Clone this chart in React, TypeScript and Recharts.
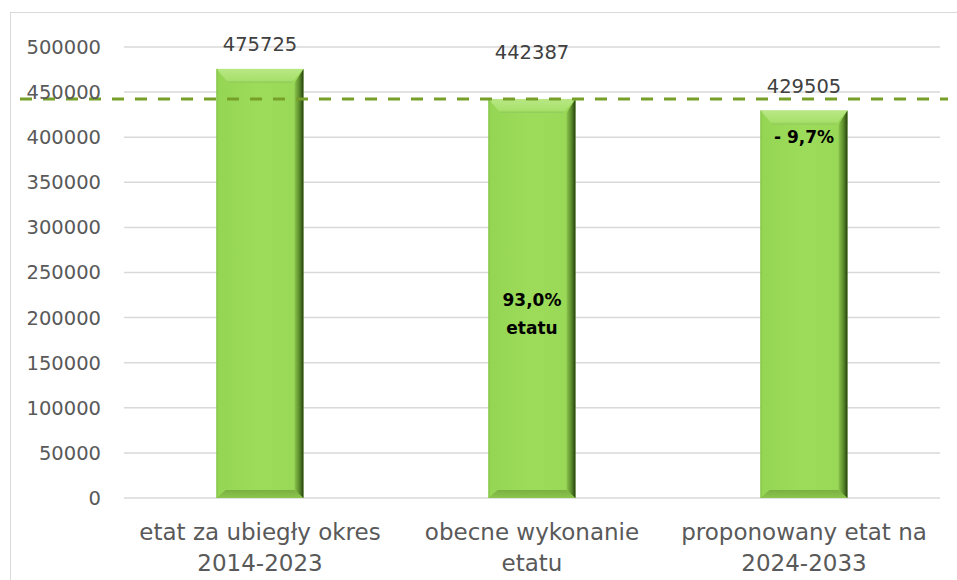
import { Bar, BarChart, CartesianGrid, LabelList, ReferenceLine, XAxis, YAxis } from 'recharts';

const categories = ['etat za ubiegły okres\n2014-2023', 'obecne wykonanie\netatu', 'proponowany etat na\n2024-2033'];
const volumes = [475725, 442387, 429505];
const notes = ['', '93,0%\netatu', '- 9,7%'];
const yTicks = [0, 50000, 100000, 150000, 200000, 250000, 300000, 350000, 400000, 450000, 500000];
const referenceVolume = 442387;

const FONT = '"DejaVu Sans", sans-serif';

const data = categories.map((name, i) => ({ name, value: volumes[i], note: notes[i] }));

// bevelled bar, like the Excel "soft edge" preset
function BevelBar(props: any) {
  const { x, y, width: w, height: h } = props;
  if (!h || h <= 0) return null;
  const t = 14;
  const s = 12;
  const r = 9;
  const b = 8;
  return (
    <g>
      <rect x={x} y={y} width={w} height={h} fill="url(#barBody)" />
      <polygon points={`${x},${y} ${x + w},${y} ${x + w - s},${y + t} ${x + s},${y + t}`} fill="url(#barTop)" />
      <polygon points={`${x},${y + h} ${x + w},${y + h} ${x + w - r},${y + h - b} ${x + r},${y + h - b}`} fill="url(#barBottom)" />
      <polygon points={`${x + w},${y} ${x + w},${y + h} ${x + w - r},${y + h - b} ${x + w - r},${y + t}`} fill="url(#barRight)" />
      <line x1={x + 0.5} y1={y} x2={x + 0.5} y2={y + h} stroke="#80bf42" strokeWidth={1} />
    </g>
  );
}

function ValueLabel(props: any) {
  const { x, y, width, value, index } = props;
  // the middle label sits higher in the original, clear of the dashed line
  const lift = index === 1 ? 22 : 0;
  return (
    <text x={x + width / 2} y={y - 18 - lift} textAnchor="middle" fontFamily={FONT} fontSize={19.5} fill="#404040">
      {value}
    </text>
  );
}

function NoteLabel(props: any) {
  const { x, y, width, height, value } = props;
  if (!value) return null;
  const lines = String(value).split('\n');
  const top = lines.length > 1 ? y + height * 0.52 : y + 32;
  return (
    <text x={x + width / 2} y={top} textAnchor="middle" fontFamily={FONT} fontSize={17} fontWeight="bold" fill="#000000">
      {lines.map((line, i) => (
        <tspan key={i} x={x + width / 2} dy={i === 0 ? 0 : 28}>
          {line}
        </tspan>
      ))}
    </text>
  );
}

function CategoryTick(props: any) {
  const { x, y, payload } = props;
  const lines = String(payload.value).split('\n');
  return (
    <text x={x} y={y} textAnchor="middle" fontFamily={FONT} fontSize={23} fill="#595959">
      {lines.map((line, i) => (
        <tspan key={i} x={x} dy={i === 0 ? 34 : 31}>
          {line}
        </tspan>
      ))}
    </text>
  );
}

function DashedTarget(props: any) {
  const { x1, y1, x2, y2 } = props;
  return <line x1={x1 - 104} y1={y1} x2={x2 + 8} y2={y2} stroke="#77a02a" strokeWidth={3} strokeDasharray="12 11" />;
}

export default function App() {
  return (
    <div style={{ position: 'absolute', left: 0, top: 0, width: 957, height: 580, background: '#ffffff', overflow: 'hidden' }}>
      <div
        style={{
          position: 'absolute',
          left: 10,
          top: 12,
          width: 980,
          height: 600,
          border: '1.5px solid #d9d9d9',
          boxSizing: 'border-box'
        }}
      />
      <BarChart
        width={957}
        height={580}
        data={data}
        margin={{ top: 47, right: 17, bottom: 0, left: 0 }}
        barCategoryGap="34%"
        style={{ position: 'absolute', left: 0, top: 0 }}
      >
        <defs>
          <linearGradient id="barBody" x1="0" x2="1" y1="0" y2="0">
            <stop offset="0%" stopColor="#95d554" />
            <stop offset="50%" stopColor="#9cdc5a" />
            <stop offset="100%" stopColor="#98d856" />
          </linearGradient>
          <linearGradient id="barTop" x1="0" x2="0" y1="0" y2="1">
            <stop offset="0%" stopColor="#b8e784" />
            <stop offset="80%" stopColor="#a8e16c" />
            <stop offset="100%" stopColor="#8fc957" />
          </linearGradient>
          <linearGradient id="barBottom" x1="0" x2="0" y1="0" y2="1">
            <stop offset="0%" stopColor="#7aaf42" />
            <stop offset="100%" stopColor="#8bc64d" />
          </linearGradient>
          <linearGradient id="barRight" x1="0" x2="1" y1="0" y2="0">
            <stop offset="0%" stopColor="#8cc64e" />
            <stop offset="55%" stopColor="#5a8a2b" />
            <stop offset="100%" stopColor="#26400f" />
          </linearGradient>
        </defs>
        <CartesianGrid stroke="#d9d9d9" strokeWidth={1.5} vertical={false} />
        <XAxis
          dataKey="name"
          axisLine={false}
          tickLine={false}
          tick={<CategoryTick />}
          interval={0}
          height={82}
        />
        <YAxis
          type="number"
          domain={[0, 500000]}
          ticks={yTicks}
          width={124}
          axisLine={false}
          tickLine={false}
          tickSize={0}
          tickMargin={23}
          interval={0}
          tick={{ fill: '#595959', fontSize: 19.5, fontFamily: FONT }}
        />
        <Bar dataKey="value" shape={<BevelBar />} isAnimationActive={false}>
          <LabelList dataKey="value" content={<ValueLabel />} />
          <LabelList dataKey="note" content={<NoteLabel />} />
        </Bar>
        <ReferenceLine y={referenceVolume} ifOverflow="visible" shape={<DashedTarget />} />
      </BarChart>
    </div>
  );
}
